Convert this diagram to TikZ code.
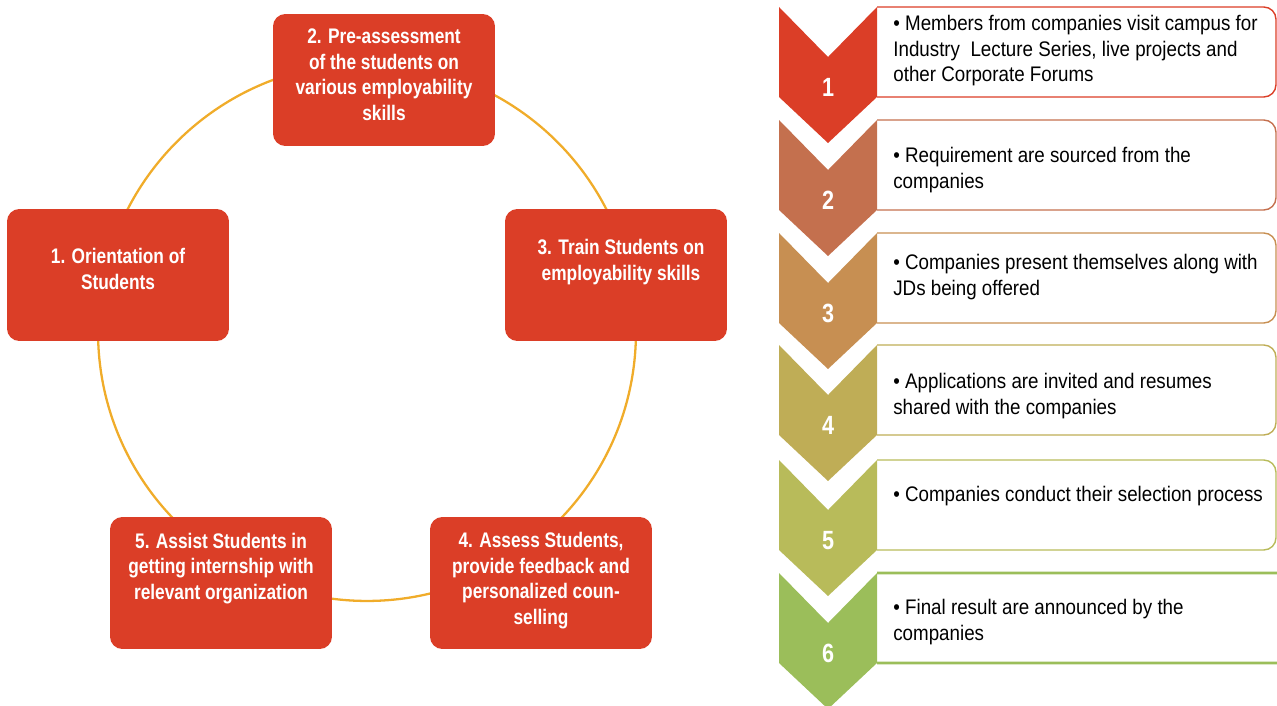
\documentclass[tikz,border=0pt]{standalone}
\usepackage{fontspec}
\setmainfont{Liberation Sans}[FakeStretch=0.89,BoldFeatures={FakeStretch=0.82}]
\definecolor{boxred}{RGB}{219,62,39}
\definecolor{ringorange}{RGB}{240,172,42}
\definecolor{chevA}{RGB}{219,62,39}
\definecolor{chevB}{RGB}{196,112,78}
\definecolor{chevC}{RGB}{199,143,82}
\definecolor{chevD}{RGB}{191,173,86}
\definecolor{chevE}{RGB}{184,187,90}
\definecolor{chevF}{RGB}{155,190,90}
\tikzset{
  stepbox/.style={fill=boxred, rounded corners=7pt, minimum width=4.44cm, minimum height=2.64cm, inner sep=0pt},
  steptext/.style={text=white, font=\fontsize{12}{14.5}\selectfont\bfseries, align=center, inner sep=0pt},
  itemtext/.style={font=\fontsize{12}{14.7}\selectfont, align=left, inner sep=0pt},
  numtext/.style={text=white, font=\fontsize{15}{18}\selectfont\bfseries, inner sep=0pt}
}
\begin{document}
\begin{tikzpicture}[x=0.02cm,y=-0.02cm]
    \useasboundingbox (0,0) rectangle (1277,706);
    %% Cycle
    \draw[ringorange, line width=1.3pt] (367,332) circle (5.38cm);
    \node[stepbox] (orient) at (118,275) {};
    \node[stepbox] (preassess) at (384,80) {};
    \node[stepbox] (train) at (616,275) {};
    \node[stepbox] (assess) at (541,583) {};
    \node[stepbox] (assist) at (221,583) {};
    %% base = last line
    \node[steptext, anchor=base] at (118,289) {1. Orientation of\\Students};
    \node[steptext, anchor=base] at (384,120) {2. Pre-assessment\\of the students on\\various employability\\skills};
    \node[steptext, anchor=base] at (621,280) {3. Train Students on\\employability skills};
    \node[steptext, anchor=base] at (541,624) {4. Assess Students,\\provide feedback and\\personalized coun-\\selling};
    \node[steptext, anchor=base] at (221,599) {5. Assist Students in\\getting internship with\\relevant organization};
    %% Process
    \foreach \n/\col/\y/\xr/\lw in {1/chevA/7/1276/0.8,2/chevB/120/1276/0.8,3/chevC/233/1276/0.8,
        4/chevD/345/1276/0.8,5/chevE/460/1276/0.8,6/chevF/573/1300/1.6}
    {
        \draw[\col, line width=\lw pt, rounded corners=7pt] (877,\y) -- (\xr,\y) -- (\xr,\y+90) -- (877,\y+90);
        \fill[\col] (779,\y) -- (828,\y+50) -- (877,\y) -- (877,\y+90) -- (828,\y+136) -- (779,\y+90) -- cycle;
        \node[numtext, anchor=base] (num\n) at (828,\y+89) {\n};
    }
    \node[itemtext, anchor=base west] (item1) at (893,82) {• Members from companies visit campus for\\Industry\ \ Lecture Series, live projects and\\other Corporate Forums};
    \node[itemtext, anchor=base west] (item2) at (893,188) {• Requirement are sourced from the\\companies};
    \node[itemtext, anchor=base west] (item3) at (893,295) {• Companies present themselves along with\\JDs being offered};
    \node[itemtext, anchor=base west] (item4) at (893,414) {• Applications are invited and resumes\\shared with the companies};
    \node[itemtext, anchor=base west] (item5) at (893,501) {• Companies conduct their selection process};
    \node[itemtext, anchor=base west] (item6) at (893,640) {• Final result are announced by the\\companies};
\end{tikzpicture}
\end{document}
